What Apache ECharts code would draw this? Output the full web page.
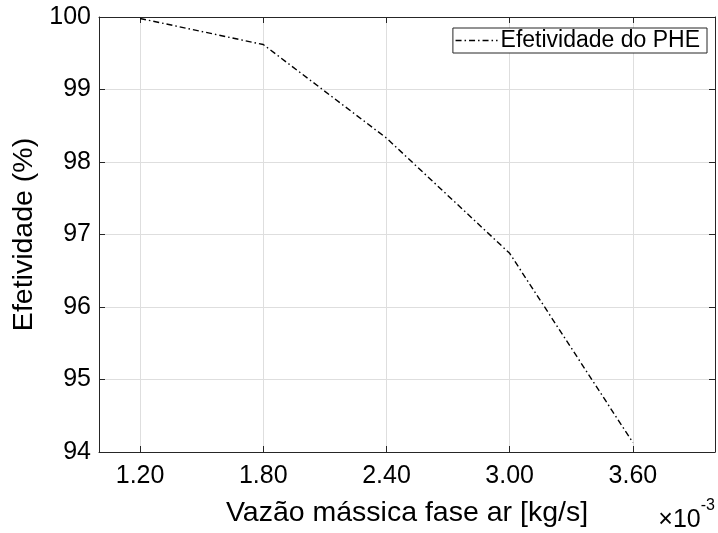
<!DOCTYPE html>
<html>
<head>
<meta charset="utf-8">
<script src="https://cdn.jsdelivr.net/npm/echarts@6/dist/echarts.min.js"></script>
<style>html,body{margin:0;padding:0;background:#fff}#c{width:718px;height:533px}</style>
</head>
<body>
<div id="c"></div>
<script>
var xValues = [1.2, 1.8, 2.4, 3.0, 3.6];
var effectiveness = [99.98, 99.62, 98.33, 96.74, 94.13];
var xTickValues = [1.2, 1.8, 2.4, 3.0, 3.6];
var yTickValues = [94, 95, 96, 97, 98, 99, 100];
var seriesName = 'Efetividade do PHE';
var xLabel = 'Vazão mássica fase ar [kg/s]';
var yLabel = 'Efetividade (%)';

var FONT = 'Liberation Sans, Arial, Helvetica, sans-serif';
var AX = '#262626';
var TICK = 25, LBL = 28.5;

var chart = echarts.init(document.getElementById('c'), null, {renderer: 'canvas'});
var baseX = {
  type: 'value', min: 1.0, max: 4.0,
  axisLine: {show: true, onZero: false, lineStyle: {color: AX, width: 1}},
  axisTick: {show: true, inside: true, length: 6, customValues: xTickValues, lineStyle: {color: AX}},
  splitLine: {show: false},
  axisLabel: {show: false}
};
var baseY = {
  type: 'value', min: 94, max: 100, interval: 1,
  axisLine: {show: true, onZero: false, lineStyle: {color: AX, width: 1}},
  axisTick: {show: true, inside: true, length: 6, lineStyle: {color: AX}},
  splitLine: {show: false},
  axisLabel: {show: false}
};
var option = {
  animation: false,
  backgroundColor: '#fff',
  grid: {left: 99, right: 3, top: 17, bottom: 78, containLabel: false},
  xAxis: [
    Object.assign({}, baseX, {
      position: 'bottom',
      name: xLabel, nameLocation: 'middle', nameGap: 47,
      nameTextStyle: {fontFamily: FONT, fontSize: LBL, color: '#000'},
      splitLine: {show: true, lineStyle: {color: '#dedede', width: 1}},
      axisLabel: {show: true, customValues: xTickValues, margin: 12, fontFamily: FONT, fontSize: TICK, color: '#000',
        formatter: function (v) { return v.toFixed(2); }}
    }),
    Object.assign({}, baseX, {position: 'top'})
  ],
  yAxis: [
    Object.assign({}, baseY, {
      position: 'left',
      name: yLabel, nameLocation: 'middle', nameGap: 55, nameRotate: 90,
      nameTextStyle: {fontFamily: FONT, fontSize: LBL, color: '#000'},
      splitLine: {show: true, lineStyle: {color: '#dedede', width: 1}},
      axisLabel: {show: true, margin: 8, fontFamily: FONT, fontSize: TICK, color: '#000'}
    }),
    Object.assign({}, baseY, {position: 'right'})
  ],
  legend: {
    data: [seriesName],
    right: 11, top: 28,
    orient: 'vertical',
    backgroundColor: '#fff',
    borderColor: AX, borderWidth: 1, borderRadius: 0,
    padding: [1, 7, 1, 2],
    itemWidth: 42, itemHeight: 14, itemGap: 0,
    itemStyle: {opacity: 0},
    lineStyle: {width: 1.3},
    textStyle: {fontFamily: FONT, fontSize: 23, color: '#000', padding: [0, 0, 0, -2]}
  },
  graphic: [{
    type: 'text', right: 3, top: 498, z: 10,
    style: {
      text: '{a|×10}{b|-3}',
      rich: {
        a: {fontFamily: FONT, fontSize: 25, fill: '#000', verticalAlign: 'bottom', padding: [10, 0, 0, 0]},
        b: {fontFamily: FONT, fontSize: 16, fill: '#000', verticalAlign: 'top'}
      }
    }
  }],
  series: [{
    name: seriesName,
    type: 'line',
    xAxisIndex: 0, yAxisIndex: 0,
    data: xValues.map(function (x, i) { return [x, effectiveness[i]]; }),
    symbol: 'none', showSymbol: false,
    lineStyle: {color: '#000', width: 1.4, type: [6, 3, 1.5, 3]},
    itemStyle: {color: '#000'}
  }]
};
chart.setOption(option);
</script>
</body>
</html>
